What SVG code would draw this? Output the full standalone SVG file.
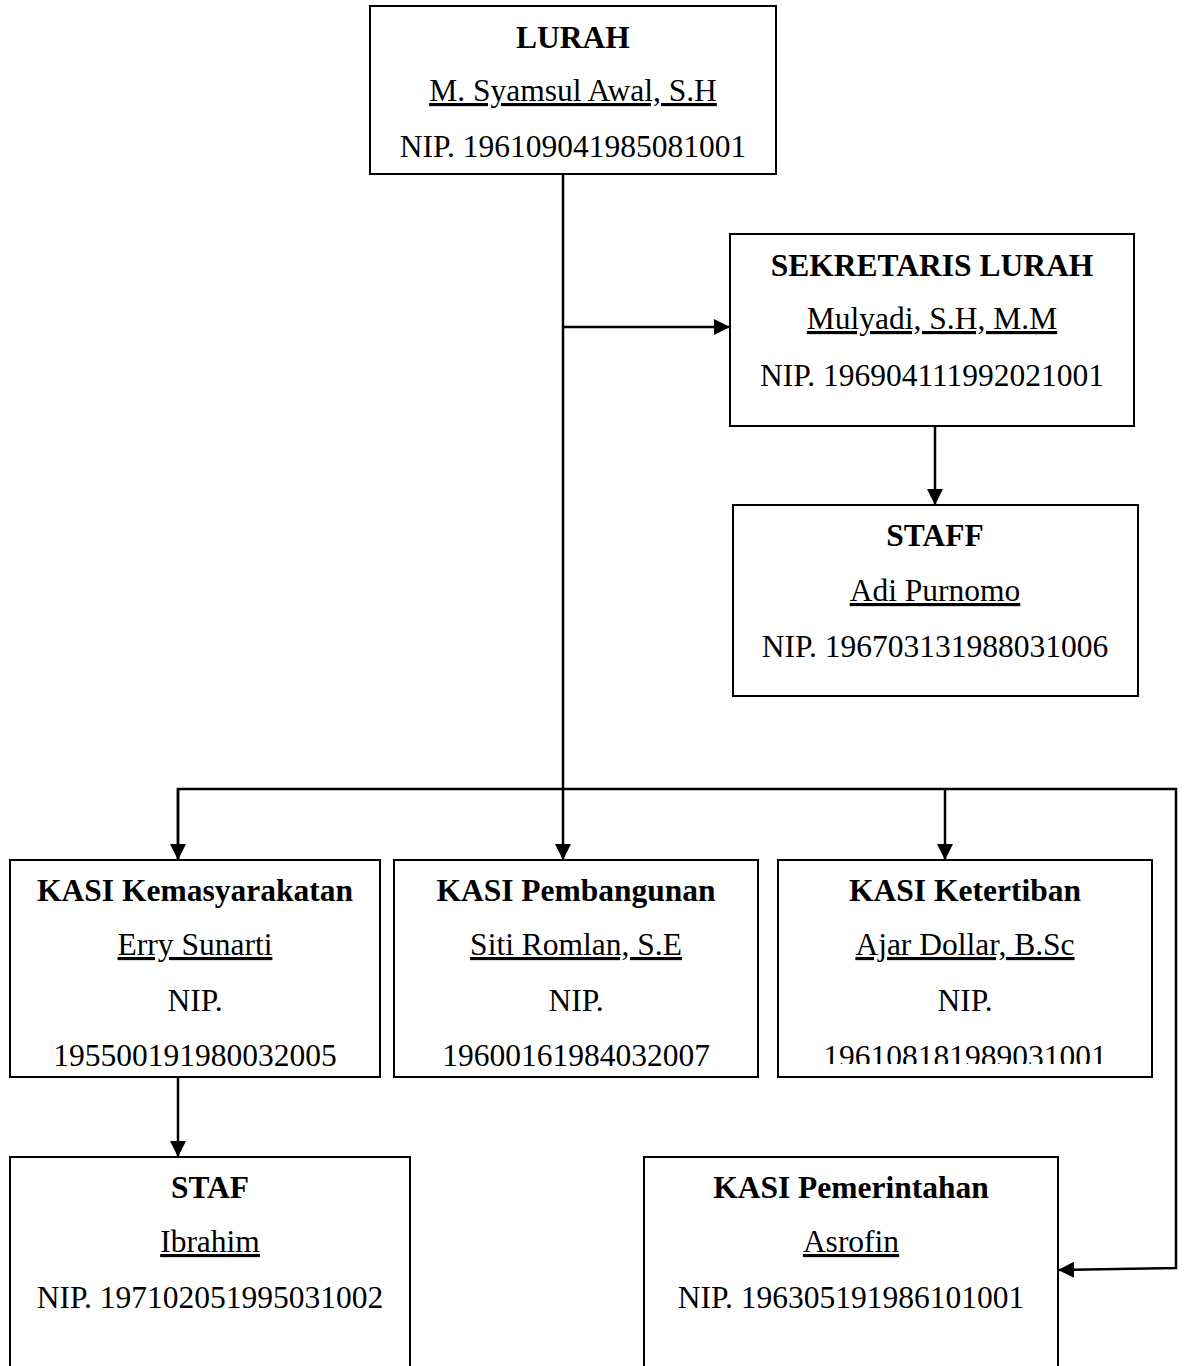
<svg xmlns="http://www.w3.org/2000/svg" width="1184" height="1366" viewBox="0 0 1184 1366">
  <style>
    .box { fill: #ffffff; stroke: #000000; stroke-width: 2; }
    .conn { fill: none; stroke: #000000; stroke-width: 2.5; }
    text { font-family: "Liberation Serif", "Times New Roman", serif; font-size: 31.5px; fill: #000000; text-anchor: middle; }
    .title { font-weight: bold; }
    .name { text-decoration: underline; }
  </style>
  <defs>
    <marker id="arrow" viewBox="0 0 16 16" refX="16" refY="8" markerWidth="16" markerHeight="16" markerUnits="userSpaceOnUse" orient="auto">
      <path d="M0,0 L16,8 L0,16 Z" fill="#000000"/>
    </marker>
    <clipPath id="clipKet">
      <rect x="770" y="850" width="400" height="214"/>
    </clipPath>
  </defs>
  <rect width="1184" height="1366" fill="#ffffff"/>

  <g id="connectors">
    <line class="conn" x1="563" y1="174" x2="563" y2="860" marker-end="url(#arrow)"/>
    <line class="conn" x1="563" y1="327" x2="730" y2="327" marker-end="url(#arrow)"/>
    <line class="conn" x1="935" y1="426" x2="935" y2="505" marker-end="url(#arrow)"/>
    <polyline class="conn" points="178,860 178,789 1176,789 1176,1268 1058,1270" marker-end="url(#arrow)"/>
    <line class="conn" x1="178" y1="789" x2="178" y2="860" marker-end="url(#arrow)"/>
    <line class="conn" x1="945" y1="789" x2="945" y2="860" marker-end="url(#arrow)"/>
    <line class="conn" x1="178" y1="1077" x2="178" y2="1157" marker-end="url(#arrow)"/>
  </g>

  <g id="lurah">
    <rect class="box" x="370" y="6" width="406" height="168"/>
    <text class="title" x="573" y="48">LURAH</text>
    <text class="name" x="573" y="101">M. Syamsul Awal, S.H</text>
    <text x="573" y="157">NIP. 196109041985081001</text>
  </g>

  <g id="sekretaris">
    <rect class="box" x="730" y="234" width="404" height="192"/>
    <text class="title" x="932" y="276">SEKRETARIS LURAH</text>
    <text class="name" x="932" y="329">Mulyadi, S.H, M.M</text>
    <text x="932" y="386">NIP. 196904111992021001</text>
  </g>

  <g id="staff-sekretaris">
    <rect class="box" x="733" y="505" width="405" height="191"/>
    <text class="title" x="935" y="546">STAFF</text>
    <text class="name" x="935" y="601">Adi Purnomo</text>
    <text x="935" y="657">NIP. 196703131988031006</text>
  </g>

  <g id="kasi-kemasyarakatan">
    <rect class="box" x="10" y="860" width="370" height="217"/>
    <text class="title" x="195" y="901">KASI Kemasyarakatan</text>
    <text class="name" x="195" y="955">Erry Sunarti</text>
    <text x="195" y="1011">NIP.</text>
    <text x="195" y="1066">195500191980032005</text>
  </g>

  <g id="kasi-pembangunan">
    <rect class="box" x="394" y="860" width="364" height="217"/>
    <text class="title" x="576" y="901">KASI Pembangunan</text>
    <text class="name" x="576" y="955">Siti Romlan, S.E</text>
    <text x="576" y="1011">NIP.</text>
    <text x="576" y="1066">19600161984032007</text>
  </g>

  <g id="kasi-ketertiban">
    <rect class="box" x="778" y="860" width="374" height="217"/>
    <text class="title" x="965" y="901">KASI Ketertiban</text>
    <text class="name" x="965" y="955">Ajar Dollar, B.Sc</text>
    <text x="965" y="1011">NIP.</text>
    <text x="965" y="1067" clip-path="url(#clipKet)">196108181989031001</text>
  </g>

  <g id="staf-kemasyarakatan">
    <rect class="box" x="10" y="1157" width="400" height="215"/>
    <text class="title" x="210" y="1198">STAF</text>
    <text class="name" x="210" y="1252">Ibrahim</text>
    <text x="210" y="1308">NIP. 197102051995031002</text>
  </g>

  <g id="kasi-pemerintahan">
    <rect class="box" x="644" y="1157" width="414" height="215"/>
    <text class="title" x="851" y="1198">KASI Pemerintahan</text>
    <text class="name" x="851" y="1252">Asrofin</text>
    <text x="851" y="1308">NIP. 196305191986101001</text>
  </g>
</svg>
